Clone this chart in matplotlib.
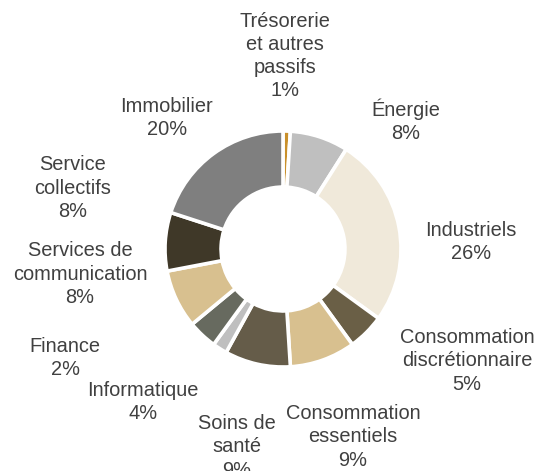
import matplotlib
matplotlib.use('Agg')
import matplotlib.pyplot as plt

# sector weights, clockwise from 12 o'clock
sectors = ['Trésorerie\net autres\npassifs', 'Énergie', 'Industriels',
           'Consommation\ndiscrétionnaire', 'Consommation\nessentiels',
           'Soins de\nsanté', 'Finance', 'Informatique',
           'Services de\ncommunication', 'Service\ncollectifs', 'Immobilier']
weights = [1, 8, 26, 5, 9, 9, 2, 4, 8, 8, 20]
colors = ['#C9902B', '#BFBFBF', '#F0E9DA', '#6A5F46', '#D8C08F',
          '#655C49', '#BFBFBF', '#676A5F', '#D8C08F', '#3F3828', '#7F7F7F']

# label centres in pixels (x from left, y from top)
label_px = [(285, 56), (406, 121), (471, 242), (467, 361), (353, 437),
            (237, 447), (65, 358), (143, 402), (80, 274), (73, 188), (167, 118)]

W, H = 538, 471
cx, cy, R = 283, 249, 118     # donut centre and radius in pixels

fig = plt.figure(figsize=(W / 100, H / 100), dpi=100)
ax = fig.add_axes([0, 0, 1, 1])

ax.pie(weights, colors=colors, startangle=90, counterclock=False, radius=1,
       wedgeprops=dict(width=0.475, edgecolor='white', linewidth=2.6))

# pie() resets the limits, so set them afterwards
ax.set_xlim(-cx / R, (W - cx) / R)
ax.set_ylim(-(H - cy) / R, cy / R)
ax.set_aspect('equal')
ax.axis('off')

for name, w, (px, py) in zip(sectors, weights, label_px):
    fig.text(px / W, 1 - py / H, f'{name}\n{w}%', ha='center', va='center',
             multialignment='center', fontsize=14.4, color='#404040',
             family='Liberation Sans', linespacing=1.28)

fig.savefig('out.png', dpi=100)
